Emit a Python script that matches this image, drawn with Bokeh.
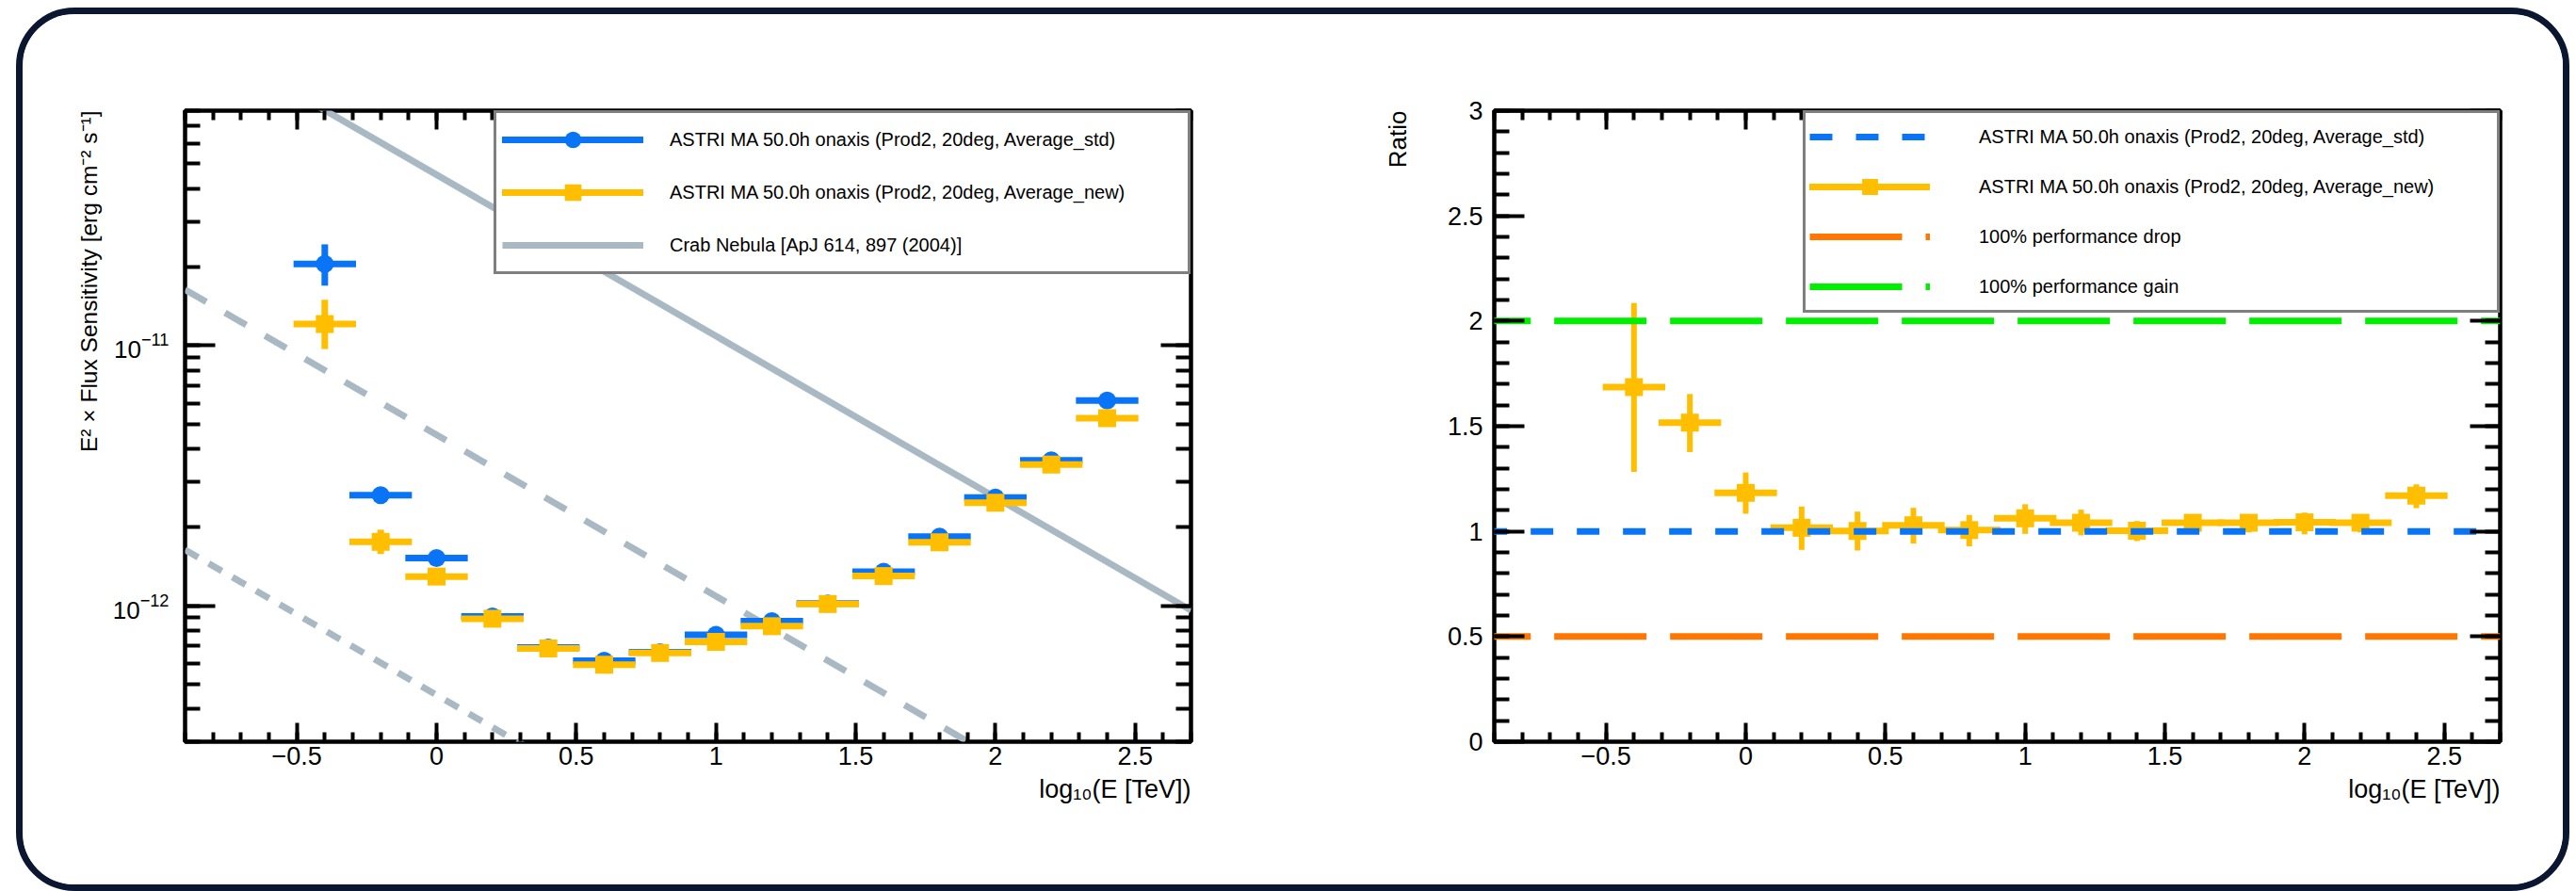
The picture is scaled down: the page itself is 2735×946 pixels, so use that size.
from bokeh.plotting import figure
from bokeh.models import (ColumnDataSource, LinearAxis, LogAxis, SingleIntervalTicker, LogTicker,
                          Legend, LegendItem, Title, CustomJSTickFormatter, Row)
from bokeh.embed import file_html
from bokeh.resources import INLINE

# ---------------- data ----------------
log_e = [-0.4, -0.2, 0.0, 0.2, 0.4, 0.6, 0.8, 1.0, 1.2, 1.4, 1.6, 1.8, 2.0, 2.2, 2.4]
bin_halfwidth = [0.1, 0.1, 0.1, 0.1, 0.1, 0.1, 0.1, 0.1, 0.1, 0.1, 0.1, 0.1, 0.1, 0.1, 0.1]

sens_std = [2.06e-11, 2.66e-12, 1.525e-12, 9.1e-13, 6.9e-13, 6.15e-13, 6.62e-13, 7.73e-13,
            8.73e-13, 1.02e-12, 1.352e-12, 1.842e-12, 2.606e-12, 3.62e-12, 6.15e-12]
sens_std_err_lo = [3.6e-12, 1.0e-13, 5e-14, 3e-14, 2e-14, 2e-14, 2e-14, 2e-14,
                   2e-14, 3e-14, 4e-14, 5e-14, 7e-14, 1.0e-13, 1.5e-13]
sens_std_err_hi = [3.9e-12, 1.0e-13, 5e-14, 3e-14, 2e-14, 2e-14, 2e-14, 2e-14,
                   2e-14, 3e-14, 4e-14, 5e-14, 7e-14, 1.0e-13, 1.5e-13]

sens_new = [1.21e-11, 1.76e-12, 1.294e-12, 8.91e-13, 6.85e-13, 5.93e-13, 6.58e-13, 7.26e-13,
            8.34e-13, 1.015e-12, 1.30e-12, 1.753e-12, 2.49e-12, 3.49e-12, 5.26e-12]
sens_new_err_lo = [2.4e-12, 1.8e-13, 8e-14, 5e-14, 3e-14, 3e-14, 3e-14, 3e-14,
                   3e-14, 4e-14, 5e-14, 6e-14, 8e-14, 1.1e-13, 1.6e-13]
sens_new_err_hi = [2.9e-12, 2.0e-13, 8e-14, 5e-14, 3e-14, 3e-14, 3e-14, 3e-14,
                   3e-14, 4e-14, 5e-14, 6e-14, 8e-14, 1.1e-13, 1.6e-13]

crab_log_e = [-0.9, 2.7]
crab_100 = [1.64e-10, 9.6e-13]
crab_10 = [1.64e-11, 9.6e-14]
crab_1 = [1.64e-12, 9.6e-15]

ratio = [1.686, 1.517, 1.183, 1.017, 1.002, 1.029, 1.006, 1.062, 1.041, 1.003, 1.041, 1.041, 1.043, 1.041, 1.170]
ratio_lo = [1.283, 1.377, 1.084, 0.912, 0.909, 0.942, 0.929, 0.988, 0.981, 0.954, 0.995, 0.995, 0.986, 0.995, 1.111]
ratio_hi = [2.085, 1.653, 1.280, 1.118, 1.094, 1.112, 1.078, 1.129, 1.103, 1.049, 1.081, 1.081, 1.089, 1.081, 1.224]

ref_levels = [1.0, 0.5, 2.0]
ref_line_x = [-1.1, 2.7]

label_std = "ASTRI MA 50.0h onaxis (Prod2, 20deg, Average_std)"
label_new = "ASTRI MA 50.0h onaxis (Prod2, 20deg, Average_new)"
label_crab = "Crab Nebula [ApJ 614, 897 (2004)]"
label_drop = "100% performance drop"
label_gain = "100% performance gain"
ytitle_left = "E\u00b2 \u00d7 Flux Sensitivity [erg cm\u207b\u00b2 s\u207b\u00b9]"
ytitle_right = "Ratio"
xtitle = "log\u2081\u2080(E [TeV])"

# ---------------- style ----------------
FONT = "Liberation Sans"
BLUE = "#0a74f7"
ORANGE = "#ffbf00"
GRAY = "#a9b9c3"
DROP = "#ff7700"
GAIN = "#00ee00"
NAVY = "#0b1631"
LW = 7
H = 924


def num_fmt():
    return CustomJSTickFormatter(
        code="return String(Math.round(tick*10)/10).replace('-', '\u2212');")


def blank_fmt():
    return CustomJSTickFormatter(code="return '';")


def style_axis(ax, major, minor, labels, size="27px"):
    ax.axis_line_color = None
    ax.major_tick_in = major
    ax.major_tick_out = 0
    ax.minor_tick_in = minor
    ax.minor_tick_out = 0
    ax.major_tick_line_width = 4
    ax.minor_tick_line_width = 4
    ax.major_tick_line_color = "black"
    ax.minor_tick_line_color = "black"
    ax.major_label_text_font = FONT
    ax.major_label_text_font_size = size
    ax.major_label_text_color = "black"
    if not labels:
        ax.formatter = blank_fmt()
        ax.major_label_standoff = 0


def title(text, size, standoff):
    return Title(text=text, align="right", text_font=FONT, text_font_size=size,
                 text_font_style="normal", text_color="black", standoff=standoff,
                 offset=0)


def base_fig(width, y_range, log, mb_left, mb_right):
    p = figure(width=width, height=H, x_range=(-0.9, 2.7), y_range=y_range,
               y_axis_type="log" if log else "linear",
               output_backend="svg", toolbar_location=None,
               min_border_left=mb_left, min_border_right=mb_right,
               min_border_top=102, min_border_bottom=H - 102 - 670)
    p.grid.visible = False
    p.outline_line_color = "black"
    p.outline_line_width = 4.5
    p.background_fill_color = "white"
    p.border_fill_color = "white"
    xa = p.xaxis[0]
    xa.ticker = SingleIntervalTicker(interval=0.5, num_minor_ticks=5)
    xa.formatter = num_fmt()
    style_axis(xa, 20, 10, True)
    xa.major_label_standoff = 5
    top = LinearAxis(ticker=SingleIntervalTicker(interval=0.5, num_minor_ticks=5))
    style_axis(top, 20, 10, False)
    p.add_layout(top, "above")
    ya = p.yaxis[0]
    if log:
        ya.ticker = LogTicker(num_minor_ticks=10)
        style_axis(ya, 32, 16, True, "26px")
        ya.major_label_standoff = 17
        right = LogAxis(ticker=LogTicker(num_minor_ticks=10))
    else:
        ya.ticker = SingleIntervalTicker(interval=0.5, num_minor_ticks=5)
        ya.formatter = num_fmt()
        style_axis(ya, 32, 16, True)
        ya.major_label_standoff = 12
        right = LinearAxis(ticker=SingleIntervalTicker(interval=0.5, num_minor_ticks=5))
    style_axis(right, 32, 16, False)
    p.add_layout(right, "right")
    p.add_layout(title(xtitle, "27px", 12), "below")
    return p


def legend(items, pad, gh, spacing, gw, standoff):
    lg = Legend(items=items, location="top_right", margin=0, padding=pad,
                glyph_height=gh, glyph_width=gw, label_standoff=standoff, spacing=spacing,
                label_width=734 - 2 * pad - gw - standoff, label_height=20,
                label_text_font=FONT, label_text_font_size="20px", label_text_color="black",
                border_line_color="black", border_line_width=3.5,
                background_fill_color="white", background_fill_alpha=1.0)
    return lg


# ---------------- left plot ----------------
p1 = base_fig(1344, (3e-13, 8e-11), True, 172, 104)

crab_src = ColumnDataSource(dict(x=crab_log_e, y100=crab_100, y10=crab_10, y1=crab_1))
r_crab = p1.line("x", "y100", source=crab_src, line_color=GRAY, line_width=LW)
p1.line("x", "y10", source=crab_src, line_color=GRAY, line_width=LW, line_dash="26 23")
p1.line("x", "y1", source=crab_src, line_color=GRAY, line_width=LW, line_dash="16 13")


def series(p, y, elo, ehi, color, marker):
    src = ColumnDataSource(dict(
        x=log_e, y=y,
        x0=[a - b for a, b in zip(log_e, bin_halfwidth)],
        x1=[a + b for a, b in zip(log_e, bin_halfwidth)],
        ylo=[a - b for a, b in zip(y, elo)],
        yhi=[a + b for a, b in zip(y, ehi)]))
    hseg = p.segment("x0", "y", "x1", "y", source=src, line_color=color, line_width=LW,
                     line_cap="square")
    p.segment("x", "ylo", "x", "yhi", source=src, line_color=color, line_width=LW)
    sc = p.scatter("x", "y", source=src, marker=marker, size=19, fill_color=color,
                   line_color=color, line_width=0)
    return hseg, sc


b_h, b_s = series(p1, sens_std, sens_std_err_lo, sens_std_err_hi, BLUE, "circle")
o_h, o_s = series(p1, sens_new, sens_new_err_lo, sens_new_err_hi, ORANGE, "square")

p1.add_layout(legend([LegendItem(label=label_std, renderers=[b_h, b_s]),
                      LegendItem(label=label_new, renderers=[o_h, o_s]),
                      LegendItem(label=label_crab, renderers=[r_crab])],
                     6, 44, 12, 150, 28))

p1.add_layout(title(ytitle_left, "24.5px", 18), "left")

# ---------------- right plot ----------------
p2 = base_fig(1353, (0, 3), False, 218, 67)

rsrc = ColumnDataSource(dict(
    x=log_e, y=ratio, ylo=ratio_lo, yhi=ratio_hi,
    x0=[a - b for a, b in zip(log_e, bin_halfwidth)],
    x1=[a + b for a, b in zip(log_e, bin_halfwidth)]))
r_h = p2.segment("x0", "y", "x1", "y", source=rsrc, line_color=ORANGE, line_width=LW,
                 line_cap="square")
p2.segment("x", "ylo", "x", "yhi", source=rsrc, line_color=ORANGE, line_width=6)
r_s = p2.scatter("x", "y", source=rsrc, marker="square", size=19, fill_color=ORANGE,
                 line_color=ORANGE, line_width=0)

ref_colors = [BLUE, DROP, GAIN]
ref_dash = ["24 25", "98 25", "98 25"]
leg_r = []
for lvl, c, d in zip(ref_levels, ref_colors, ref_dash):
    src = ColumnDataSource(dict(x=ref_line_x, y=[lvl, lvl]))
    leg_r.append(p2.line("x", "y", source=src, line_color=c, line_width=LW, line_dash=d))

p2.add_layout(legend([LegendItem(label=label_std, renderers=[leg_r[0]]),
                      LegendItem(label=label_new, renderers=[r_h, r_s]),
                      LegendItem(label=label_drop, renderers=[leg_r[1]]),
                      LegendItem(label=label_gain, renderers=[leg_r[2]])],
                     4, 42, 11, 128, 52))

p2.add_layout(title(ytitle_right, "26px", 69), "left")

layout = Row(children=[p1, p2], margin=(8, 0, 0, 17),
             styles={"border": "7px solid " + NAVY, "border-radius": "62px",
                     "overflow": "hidden", "background-color": "white"})

open("out.html", "w").write(file_html(layout, INLINE))
